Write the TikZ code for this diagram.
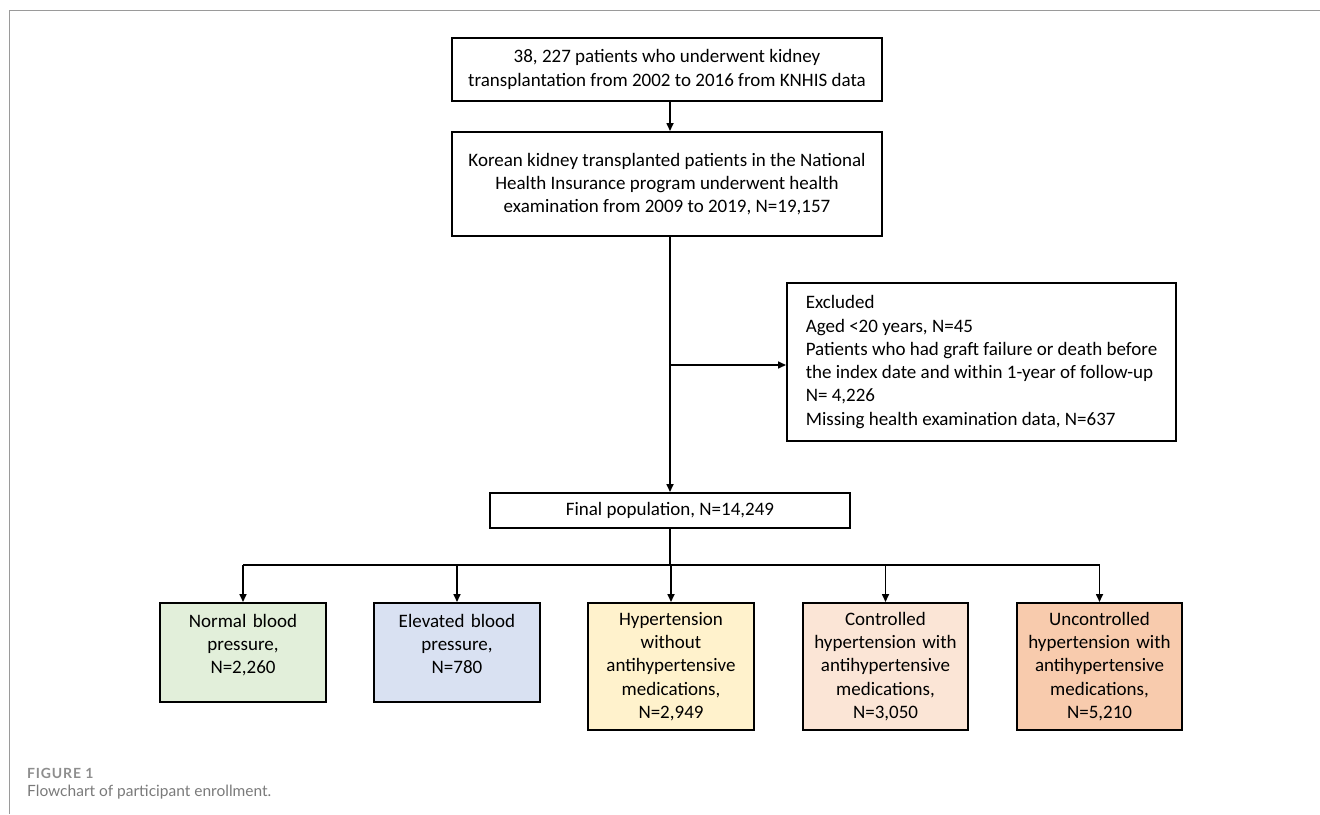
\documentclass[tikz,border=0pt]{standalone}
\usepackage{fontspec}
\setmainfont{Carlito}
\newfontfamily\capfont{Lato}
\newfontfamily\figfont[LetterSpace=6]{Lato}
\usetikzlibrary{arrows.meta,positioning,calc}
\definecolor{cgreen}{HTML}{E2EFDA}
\definecolor{cblue}{HTML}{D9E1F2}
\definecolor{cyellow}{HTML}{FFF2CC}
\definecolor{cpeach}{HTML}{FBE5D6}
\definecolor{corange}{HTML}{F8CBAD}
\definecolor{framegray}{HTML}{9A9A9A}
\definecolor{capgray}{HTML}{7A7A7A}
\tikzset{
  box/.style={draw=black, line width=2pt, rectangle, align=center, inner sep=4pt,
    font=\fontsize{19}{23.3}\selectfont, text=black},
  conn/.style={draw=black, line width=1.6pt, -{Triangle[length=8pt,width=7pt]}},
  plain/.style={draw=black, line width=1.6pt},
}
\begin{document}
\begin{tikzpicture}[x=1pt,y=-1pt]
\useasboundingbox (0,0) rectangle (1320,814);
\draw[framegray, line width=1.5pt] (1320,10.5) -- (9.5,10.5) -- (9.5,814);

\node[box, minimum width=430, minimum height=63] (top) at (667,69.5)
  {38, 227 patients who underwent kidney\\transplantation from 2002 to 2016 from KNHIS data};
\node[box, minimum width=430, minimum height=104] (kor) at (667,184)
  {Korean kidney transplanted patients in the National\\Health Insurance program underwent health\\examination from 2009 to 2019, N=19,157};
\node[box, minimum width=389, minimum height=158, align=left, inner xsep=11pt, anchor=north west] (exc) at (786,282)
  {Excluded\\Aged <20 years, N=45\\Patients who had graft failure or death before\\the index date and within 1-year of follow-up\\N= 4,226\\Missing health examination data, N=637};
\node[box, minimum width=360, minimum height=35, inner ysep=2pt] (fin) at (670,510.5)
  {Final population, N=14,249};

\node[box, fill=cgreen, minimum width=166, minimum height=99, text width=150, text depth=64pt] (nbp) at (243,652.5)
  {Normal blood\\pressure,\\N=2,260};
\node[box, fill=cblue, minimum width=166, minimum height=99, text width=150, text depth=64pt] (ebp) at (457,652.5)
  {Elevated blood\\pressure,\\N=780};
\node[box, fill=cyellow, minimum width=166, minimum height=127, text width=150] (hyp) at (671,666.5)
  {Hypertension\\without\\antihypertensive\\medications,\\N=2,949};
\node[box, fill=cpeach, minimum width=165, minimum height=127, text width=150] (chy) at (885.5,666.5)
  {Controlled\\hypertension with\\antihypertensive\\medications,\\N=3,050};
\node[box, fill=corange, minimum width=165, minimum height=127, text width=150] (uhy) at (1099.5,666.5)
  {Uncontrolled\\hypertension with\\antihypertensive\\medications,\\N=5,210};

\coordinate (t1) at (670,100);
\coordinate (br) at (670,365);
\coordinate (bar) at (670,565);

\draw[conn] (t1) -- (t1 |- kor.north);
\draw[conn] (t1 |- kor.south) -- (t1 |- fin.north);
\draw[conn] (br) -- (exc.west |- br);
\draw[plain] (t1 |- fin.south) -- (bar);
\draw[plain] (bar -| nbp.north) -- (bar -| uhy.north);
\draw[conn] (bar -| nbp.north) -- (nbp.north);
\draw[conn] (bar -| ebp.north) -- (ebp.north);
\draw[conn] (bar -| hyp.north) -- (hyp.north);
\draw[conn] (bar -| chy.north) -- (chy.north);
\draw[conn] (bar -| uhy.north) -- (uhy.north);

\node[anchor=base west, inner sep=0, text=capgray!85, font=\figfont\bfseries\fontsize{14}{16}\selectfont] (figlab) at (27,778) {FIGURE 1};
\node[anchor=base west, inner sep=0, text=capgray, font=\capfont\fontsize{15.5}{19}\selectfont] (cap) at (27,796) {Flowchart of participant enrollment.};
\end{tikzpicture}
\end{document}
